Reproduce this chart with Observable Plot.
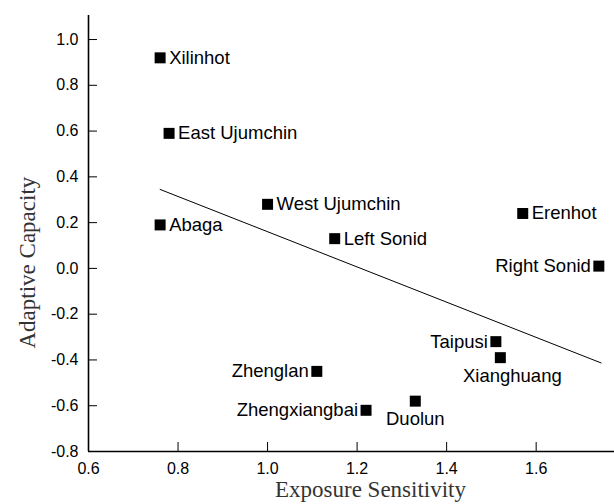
<!DOCTYPE html>
<html>
<head>
<meta charset="utf-8">
<script src="https://cdn.jsdelivr.net/npm/d3@7"></script>
<script src="https://cdn.jsdelivr.net/npm/@observablehq/plot@0.6"></script>
<style>
  html, body { margin: 0; padding: 0; background: #fff; }
</style>
</head>
<body>
<div id="chart"></div>
<script>
// ---- data ----
const names = ["Xilinhot", "East Ujumchin", "Abaga", "West Ujumchin", "Left Sonid", "Erenhot",
  "Right Sonid", "Taipusi", "Xianghuang", "Zhenglan", "Zhengxiangbai", "Duolun"];
const exposure = [0.76, 0.78, 0.76, 1.00, 1.15, 1.57, 1.74, 1.51, 1.52, 1.11, 1.22, 1.33];
const adaptive = [0.92, 0.59, 0.19, 0.28, 0.13, 0.24, 0.01, -0.32, -0.39, -0.45, -0.62, -0.58];
const fitX = [0.76, 1.745];
const fitY = [0.345, -0.413];
const xTicks = [0.6, 0.8, 1.0, 1.2, 1.4, 1.6];
const yTicks = [-0.8, -0.6, -0.4, -0.2, 0.0, 0.2, 0.4, 0.6, 0.8, 1.0];
const xTitle = "Exposure Sensitivity";
const yTitle = "Adaptive Capacity";

// ---- build ----
const points = names.map((n, i) => ({name: n, x: exposure[i], y: adaptive[i]}));
const fit = fitX.map((x, i) => ({x, y: fitY[i]}));
const leftSide = new Set(["Right Sonid", "Taipusi", "Zhenglan", "Zhengxiangbai"]);
const below = new Set(["Xianghuang", "Duolun"]);
const rightSide = points.filter(d => !leftSide.has(d.name) && !below.has(d.name));
const leftPts = points.filter(d => leftSide.has(d.name));
const belowA = points.filter(d => d.name === "Duolun");
const belowB = points.filter(d => d.name === "Xianghuang");

const labelFont = {fontSize: 18.5, fill: "black"};
const serif = "'Liberation Serif', 'Times New Roman', serif";

const chart = Plot.plot({
  width: 614,
  height: 504,
  marginLeft: 88,
  marginRight: 0,
  marginTop: 15,
  marginBottom: 53,
  style: {fontFamily: "'Liberation Sans', Arial, sans-serif", fontSize: "16px", background: "white", color: "black"},
  x: {domain: [0.6, 1.775], label: null},
  y: {domain: [-0.8, 1.105], label: null},
  marks: [
    Plot.axisX({ticks: xTicks, tickSize: -9, tickPadding: 20, tickFormat: d => d.toFixed(1), label: null, fontSize: 16}),
    Plot.axisY({ticks: yTicks, tickSize: -9, tickPadding: 19, tickFormat: d => d.toFixed(1), label: null, fontSize: 16}),
    Plot.ruleX([0.6], {strokeWidth: 1.6}),
    Plot.ruleY([-0.8], {strokeWidth: 1.6}),
    Plot.line(fit, {x: "x", y: "y", stroke: "black", strokeWidth: 1}),
    Plot.dot(points, {x: "x", y: "y", symbol: "square", r: 6.2, fill: "black", stroke: "none"}),
    Plot.text(rightSide, {x: "x", y: "y", text: "name", textAnchor: "start", dx: 9, ...labelFont}),
    Plot.text(leftPts, {x: "x", y: "y", text: "name", textAnchor: "end", dx: -8, ...labelFont}),
    Plot.text(belowA, {x: "x", y: "y", text: "name", textAnchor: "middle", dy: 18, ...labelFont}),
    Plot.text(belowB, {x: "x", y: "y", text: "name", textAnchor: "middle", dy: 18, dx: 12, ...labelFont}),
    Plot.text([xTitle], {frameAnchor: "bottom", text: d => d, dx: 19, dy: 45,
      fontFamily: serif, fontSize: 23, fill: "#333"}),
    Plot.text([yTitle], {frameAnchor: "left", text: d => d, rotate: -90, dx: -61, dy: 115,
      fontFamily: serif, fontSize: 23, fill: "#333"})
  ]
});
document.getElementById("chart").appendChild(chart);
</script>
</body>
</html>
